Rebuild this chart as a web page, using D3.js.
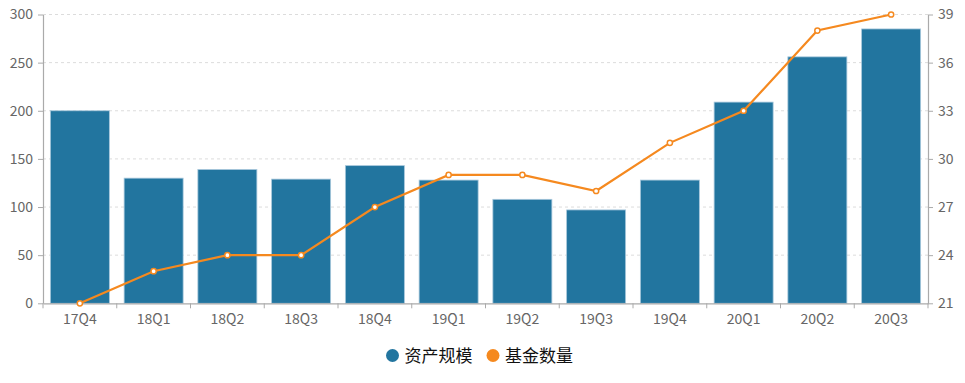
<!DOCTYPE html>
<html>
<head>
<meta charset="utf-8">
<script src="https://cdn.jsdelivr.net/npm/d3@7"></script>
<style>
  html, body { margin: 0; padding: 0; background: #fff; }
  svg { display: block; font-family: "Noto Sans CJK SC", "Noto Sans", sans-serif; }
</style>
</head>
<body>
<svg id="chart" width="965" height="383"></svg>
<script>
const categories = ["17Q4","18Q1","18Q2","18Q3","18Q4","19Q1","19Q2","19Q3","19Q4","20Q1","20Q2","20Q3"];
const assetScale = [200, 130, 139, 129, 143, 128, 108, 97, 128, 209, 256, 285];
const fundCount = [21, 23, 24, 24, 27, 29, 29, 28, 31, 33, 38, 39];
const leftTicks = [0, 50, 100, 150, 200, 250, 300];
const rightTicks = [21, 24, 27, 30, 33, 36, 39];
const seriesNames = ["资产规模", "基金数量"];

const barColor = "#22759f";
const lineColor = "#f5891f";

const svg = d3.select("#chart");
const m = { left: 43, right: 965 - 928, top: 14.5, bottom: 383 - 303.3 };
const W = 965, H = 383;

const x = d3.scaleBand().domain(categories).range([m.left, W - m.right]).paddingInner(0).paddingOuter(0);
const yL = d3.scaleLinear().domain([0, 300]).range([H - m.bottom, m.top]);
const yR = d3.scaleLinear().domain([21, 39]).range([H - m.bottom, m.top]);

// grid
svg.append("g").selectAll("line").data(leftTicks.slice(1)).join("line")
  .attr("x1", m.left).attr("x2", W - m.right)
  .attr("y1", d => yL(d)).attr("y2", d => yL(d))
  .attr("stroke", "#dcdcdc").attr("stroke-dasharray", "3,3").attr("stroke-width", 1);

// bars
const bw = x.bandwidth() * 0.8;
svg.append("g").selectAll("rect").data(categories).join("rect")
  .attr("x", (d) => x(d) + (x.bandwidth() - bw) / 2)
  .attr("width", bw)
  .attr("y", (d, i) => yL(assetScale[i]))
  .attr("height", (d, i) => yL(0) - yL(assetScale[i]))
  .attr("fill", barColor)
  .attr("stroke", "#a8c8dc").attr("stroke-width", 0.8);

// axes
function styleAxis(g) {
  g.selectAll("path.domain").attr("stroke", "#aaa").attr("stroke-width", 1.2);
  g.selectAll(".tick line").attr("stroke", "#aaa");
  g.selectAll(".tick text").attr("fill", "#666").style("font-size", "14px")
    .style("font-family", "'Noto Sans CJK SC', 'Noto Sans', sans-serif");
}

const axL = svg.append("g").attr("transform", `translate(${m.left},0)`)
  .call(d3.axisLeft(yL).tickValues(leftTicks).tickSize(5).tickPadding(5).tickSizeOuter(0));
styleAxis(axL);

const axR = svg.append("g").attr("transform", `translate(${W - m.right},0)`)
  .call(d3.axisRight(yR).tickValues(rightTicks).tickSize(5).tickPadding(5).tickSizeOuter(0));
styleAxis(axR);

const axB = svg.append("g").attr("transform", `translate(0,${H - m.bottom})`)
  .call(d3.axisBottom(x).tickSize(0).tickPadding(11).tickSizeOuter(0));
styleAxis(axB);
// boundary ticks for category axis
const bounds = categories.map(c => x(c)).concat([x(categories[categories.length - 1]) + x.bandwidth()]);
axB.append("g").selectAll("line").data(bounds).join("line")
  .attr("x1", d => d).attr("x2", d => d).attr("y1", 0).attr("y2", 5)
  .attr("stroke", "#aaa");

// line
const line = d3.line()
  .x((d, i) => x(categories[i]) + x.bandwidth() / 2)
  .y(d => yR(d));
svg.append("path").datum(fundCount).attr("d", line)
  .attr("fill", "none").attr("stroke", lineColor).attr("stroke-width", 2.2);
svg.append("g").selectAll("circle").data(fundCount).join("circle")
  .attr("cx", (d, i) => x(categories[i]) + x.bandwidth() / 2)
  .attr("cy", d => yR(d))
  .attr("r", 2.6)
  .attr("fill", "#fff").attr("stroke", lineColor).attr("stroke-width", 1.5);

// legend
const legend = svg.append("g");
const legendItems = [
  { name: seriesNames[0], color: barColor, cx: 392.5 },
  { name: seriesNames[1], color: lineColor, cx: 493 }
];
legendItems.forEach(it => {
  legend.append("circle").attr("cx", it.cx).attr("cy", 355.5).attr("r", 6.5).attr("fill", it.color);
  legend.append("text").attr("x", it.cx + 12).attr("y", 355.5).attr("dy", "0.36em")
    .attr("fill", "#111").style("font-size", "17px").text(it.name);
});
</script>
</body>
</html>
